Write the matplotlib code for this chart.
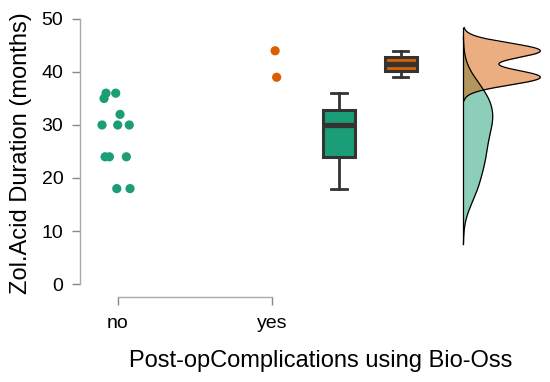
import matplotlib
matplotlib.use("Agg")
import matplotlib.pyplot as plt
import numpy as np

plt.rcParams['font.family'] = ['Liberation Sans', 'DejaVu Sans']

# data
groups = ['no', 'yes']
no_vals = [36, 35, 36, 32, 30, 30, 30, 24, 24, 24, 18, 18]
no_jitter = [-0.078, -0.091, -0.015, 0.013, -0.104, -0.002, 0.073, -0.084, -0.056, 0.054, -0.008, 0.078]
yes_vals = [44, 39]
yes_jitter = [0.02, 0.03]
colours = ['#1b9e77', '#d95f02']

box_pos = [1.435, 1.836]
dens_base = 2.242
dens_width = 0.5


def nrd0(x):
    x = np.asarray(x, float)
    sd = np.std(x, ddof=1)
    iqr = (np.percentile(x, 75) - np.percentile(x, 25)) / 1.34
    lo = min(sd, iqr) if iqr > 0 else sd
    return 0.9 * lo * len(x) ** -0.2


def kde(x, cut=3):
    x = np.asarray(x, float)
    bw = nrd0(x)
    grid = np.linspace(x.min() - cut * bw, x.max() + cut * bw, 512)
    d = np.exp(-0.5 * ((grid[:, None] - x[None, :]) / bw) ** 2).sum(axis=1)
    d /= len(x) * bw * np.sqrt(2 * np.pi)
    return grid, d


fig = plt.figure(figsize=(5.5, 3.82), dpi=100)
ax = fig.add_axes([80 / 550, (382 - 297) / 382, 470 / 550, 297 / 382])

# jittered points
for i, (vals, jit) in enumerate([(no_vals, no_jitter), (yes_vals, yes_jitter)]):
    ax.scatter(i + np.array(jit), vals, s=44, color=colours[i], edgecolors='none', zorder=3)

# boxes
for i, vals in enumerate([no_vals, yes_vals]):
    ax.boxplot([vals], positions=[box_pos[i]], widths=0.21, patch_artist=True,
               showfliers=False, manage_ticks=False,
               boxprops=dict(facecolor=colours[i], edgecolor='#333333', linewidth=2.2),
               medianprops=dict(color='#333333', linewidth=3.8),
               whiskerprops=dict(color='#333333', linewidth=2),
               capprops=dict(color='#333333', linewidth=2),
               capwidths=0.1)

# half densities
dens = [kde(v) for v in [no_vals, yes_vals]]
dmax = max(d.max() for _, d in dens)
for i, (g, d) in enumerate(dens):
    xs = dens_base + d / dmax * dens_width
    ax.fill_betweenx(g, dens_base, xs, color=colours[i], alpha=0.5, linewidth=0)
    ax.plot(xs, g, color='black', lw=0.9)
lo = min(g.min() for g, _ in dens)
hi = max(g.max() for g, _ in dens)
ax.plot([dens_base, dens_base], [lo, hi], color='black', lw=0.9)

ax.set_xlim(-0.247, 2.805)
ax.set_ylim(-2.45, 53.58)
ax.set_yticks([0, 10, 20, 30, 40, 50])
ax.set_xticks([0, 1])
ax.set_xticklabels(groups)
for s in ['top', 'right']:
    ax.spines[s].set_visible(False)
ax.spines['left'].set_bounds(0, 50)
ax.spines['bottom'].set_bounds(0, 1)
for s in ['left', 'bottom']:
    ax.spines[s].set_color('#aaaaaa')
    ax.spines[s].set_linewidth(1)
ax.tick_params(axis='both', colors='#888888', labelcolor='black', labelsize=14, length=6, width=1)
ax.tick_params(axis='x', pad=7)
ax.tick_params(axis='y', pad=6)
ax.set_ylabel('Zol.Acid Duration (months)', fontsize=17)
ax.set_xlabel('Post-opComplications using Bio-Oss', fontsize=17)
ax.yaxis.set_label_coords(-0.102, 0.485)
ax.xaxis.set_label_coords(0.513, -0.18)

fig.savefig('out.png', dpi=100)
